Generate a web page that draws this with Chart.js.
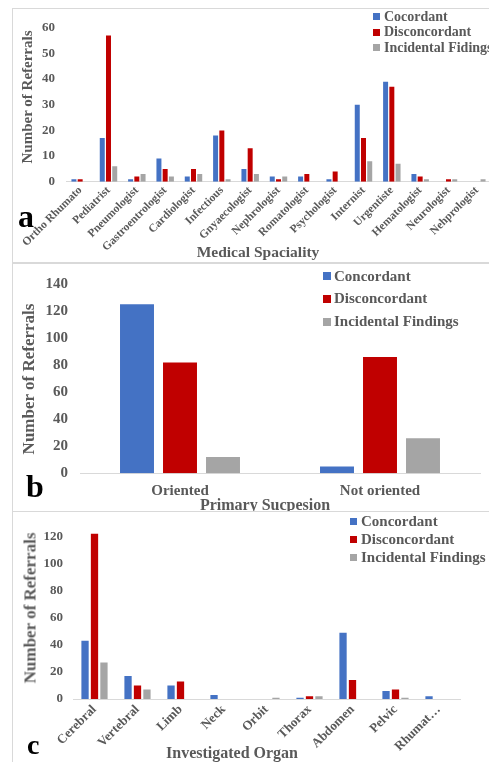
<!DOCTYPE html>
<html>
<head>
<meta charset="utf-8">
<script src="https://cdn.jsdelivr.net/npm/chart.js@4.4.1/dist/chart.umd.min.js"></script>
<style>
  html, body { margin: 0; padding: 0; background: #fff; }
  body {
    position: relative; width: 489px; height: 762px; overflow: hidden;
    font-family: "Liberation Serif", "Times New Roman", serif; font-weight: bold; color: #595959;
  }
  .panel { position: absolute; left: 12px; width: 500px; border: 1px solid #D9D9D9; background: #fff; box-sizing: border-box; }
  canvas { position: absolute; }
  .t { position: absolute; white-space: nowrap; }
  .xt { position: absolute; white-space: nowrap; transform: translateX(-50%); }
  .yt { position: absolute; white-space: nowrap; transform: translate(-50%, -50%) rotate(-90deg); }
  .letter { position: absolute; color: #000; line-height: 1; }
  .sw { position: absolute; }
</style>
</head>
<body>

<!-- Panel a: referrals by medical speciality -->
<div class="panel" style="top:8px;height:255px;"></div>
<canvas id="chartA" width="480" height="253" style="left:13px;top:9px;"></canvas>
<div class="yt" style="left:27px;top:97px;font-size:15px;line-height:15px;">Number of Referrals</div>
<div class="xt" style="left:258px;top:244px;font-size:15.5px;line-height:15.5px;">Medical Spaciality</div>
<div class="letter" style="left:18px;top:200px;font-size:32px;">a</div>
<div id="legendA"></div>

<!-- Panel b: referrals by primary suspicion -->
<div class="panel" style="top:263px;height:249px;"></div>
<canvas id="chartB" width="480" height="249" style="left:13px;top:263px;"></canvas>
<div class="yt" style="left:28px;top:379px;font-size:17px;line-height:17px;">Number of Referrals</div>
<div class="xt" style="left:265px;top:497px;font-size:16px;line-height:16px;">Primary Sucpesion</div>
<div class="letter" style="left:26px;top:470px;font-size:32px;">b</div>
<div id="legendB"></div>

<!-- Panel c: referrals by investigated organ -->
<div class="panel" style="top:511px;height:260px;"></div>
<canvas id="chartC" width="480" height="250" style="left:13px;top:512px;"></canvas>
<div class="yt" style="left:30px;top:608px;font-size:17px;line-height:17px;">Number of Referrals</div>
<div class="xt" style="left:232px;top:745px;font-size:16px;line-height:16px;">Investigated Organ</div>
<div class="letter" style="left:27px;top:731px;font-size:28px;">c</div>
<div id="legendC"></div>

<script>
// ---- Panel a: medical speciality ----
const specialityLabels = ['Ortho Rhumato', 'Pediatrist', 'Pneumologist', 'Gastroentrologist', 'Cardiologist',
  'Infectious', 'Gnyaecologist', 'Nephrologist', 'Romatologist', 'Psychologist', 'Internist',
  'Urgentiste', 'Hematologist', 'Neurologist', 'Nehprologist'];
const specialityConcordant    = [1, 17, 1, 9, 2, 18, 5, 2, 2, 1, 30, 39, 3, 0, 0];
const specialityDisconcordant = [1, 57, 2, 5, 5, 20, 13, 1, 3, 4, 17, 37, 2, 1, 0];
const specialityIncidental    = [0, 6, 3, 2, 3, 1, 3, 2, 0, 0, 8, 7, 1, 1, 1];
const specialitySeriesNames   = ['Cocordant', 'Disconcordant', 'Incidental Fidings'];
const specialityTicks         = [0, 10, 20, 30, 40, 50, 60];

// ---- Panel b: primary suspicion ----
const suspicionLabels        = ['Oriented', 'Not oriented'];
const suspicionConcordant    = [125, 5];
const suspicionDisconcordant = [82, 86];
const suspicionIncidental    = [12, 26];
const suspicionSeriesNames   = ['Concordant', 'Disconcordant', 'Incidental Findings'];
const suspicionTicks         = [0, 20, 40, 60, 80, 100, 120, 140];

// ---- Panel c: investigated organ ----
const organLabels        = ['Cerebral', 'Vertebral', 'Limb', 'Neck', 'Orbit', 'Thorax', 'Abdomen', 'Pelvic', 'Rhumat\u2026'];
const organConcordant    = [43, 17, 10, 3, 0, 1, 49, 6, 2];
const organDisconcordant = [122, 10, 13, 0, 0, 2, 14, 7, 0];
const organIncidental    = [27, 7, 0, 0, 1, 2, 0, 1, 0];
const organSeriesNames   = ['Concordant', 'Disconcordant', 'Incidental Findings'];
const organTicks         = [0, 20, 40, 60, 80, 100, 120];

const COLORS = ['#4472C4', '#C00000', '#A5A5A5'];
const TEXT = '#595959';
const AXIS = '#D9D9D9';
const FONT = '"Liberation Serif", "Times New Roman", serif';

function barChart(id, labels, series, names, o) {
  return new Chart(document.getElementById(id), {
    type: 'bar',
    data: {
      labels: labels,
      datasets: series.map((values, i) => ({
        label: names[i],
        data: values,
        backgroundColor: COLORS[i],
        borderWidth: 0,
        categoryPercentage: o.cat,
        barPercentage: o.bar
      }))
    },
    options: {
      responsive: false,
      animation: false,
      events: [],
      layout: { padding: o.pad },
      plugins: { legend: { display: false }, tooltip: { enabled: false } },
      scales: {
        x: {
          grid: { display: false, drawTicks: false },
          border: { display: true, color: AXIS, width: 1 },
          ticks: {
            color: TEXT, autoSkip: false,
            font: { family: FONT, weight: 'bold', size: o.xFont },
            padding: o.xPad, minRotation: o.rot, maxRotation: o.rot
          },
          afterFit(scale) { scale.height = o.xHeight; }
        },
        y: {
          min: 0, max: o.max,
          grid: { display: false, drawTicks: false },
          border: { display: false },
          ticks: {
            color: TEXT,
            font: { family: FONT, weight: 'bold', size: o.yFont },
            padding: o.yPad
          },
          afterBuildTicks(scale) { scale.ticks = o.ticks.map(v => ({ value: v })); },
          afterFit(scale) { scale.width = o.yWidth; }
        }
      }
    }
  });
}

function legend(id, names, o) {
  const host = document.getElementById(id);
  names.forEach((name, i) => {
    const cy = o.rows[i];
    const sw = document.createElement('div');
    sw.className = 'sw';
    sw.style.cssText = `left:${o.sx}px;top:${cy - o.sq / 2}px;width:${o.sq}px;height:${o.sq}px;background:${COLORS[i]};`;
    host.appendChild(sw);
    const t = document.createElement('div');
    t.className = 't';
    t.textContent = name;
    t.style.cssText = `left:${o.tx}px;top:${cy - o.size / 2}px;font-size:${o.size}px;line-height:${o.size}px;`;
    host.appendChild(t);
  });
}

barChart('chartA', specialityLabels,
  [specialityConcordant, specialityDisconcordant, specialityIncidental], specialitySeriesNames,
  { cat: 0.66, bar: 0.8, pad: { top: 13, right: 2, bottom: 0, left: 0 },
    xFont: 11.5, xPad: 2, rot: 45, xHeight: 80.3,
    max: 60, ticks: specialityTicks, yFont: 13, yPad: 11, yWidth: 53 });

barChart('chartB', suspicionLabels,
  [suspicionConcordant, suspicionDisconcordant, suspicionIncidental], suspicionSeriesNames,
  { cat: 0.645, bar: 0.79, pad: { top: 13, right: 13, bottom: 0, left: 0 },
    xFont: 15, xPad: 8.7, rot: 0, xHeight: 38.7,
    max: 140, ticks: suspicionTicks, yFont: 15, yPad: 12, yWidth: 67 });

barChart('chartC', organLabels,
  [organConcordant, organDisconcordant, organIncidental], organSeriesNames,
  { cat: 0.66, bar: 0.77, pad: { top: 16.9, right: 33, bottom: 0, left: 0 },
    xFont: 13, xPad: 3, rot: 45, xHeight: 63,
    max: 125, ticks: organTicks, yFont: 13, yPad: 10, yWidth: 60 });

legend('legendA', specialitySeriesNames, { sx: 373, sq: 7, tx: 384, size: 14, rows: [16.7, 32.3, 47.7] });
legend('legendB', suspicionSeriesNames, { sx: 323, sq: 8, tx: 334, size: 15, rows: [276, 298.7, 321.7] });
legend('legendC', organSeriesNames, { sx: 350, sq: 7, tx: 361, size: 15, rows: [521.7, 539.3, 557.3] });
</script>
</body>
</html>
